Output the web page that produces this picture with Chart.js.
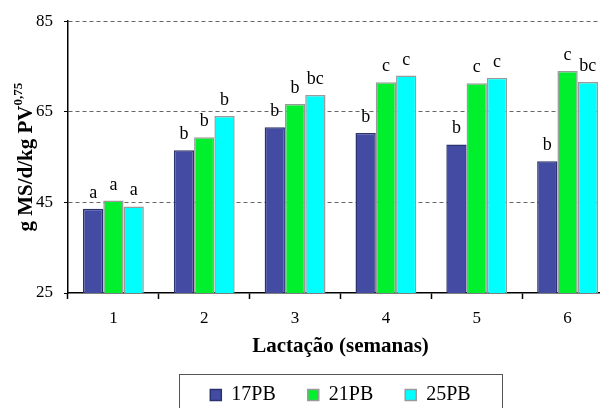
<!DOCTYPE html>
<html>
<head>
<meta charset="utf-8">
<script src="https://cdn.jsdelivr.net/npm/chart.js@4.4.1/dist/chart.umd.min.js"></script>
<style>
  html, body { margin: 0; padding: 0; background: #fff; overflow: hidden; }
  #wrap { position: absolute; left: 0; top: 0; }
</style>
</head>
<body>
<div id="wrap"><canvas id="consumoChart" width="614" height="415"></canvas></div>
<script>
// semanas de lactação
const semanas = ['1', '2', '3', '4', '5', '6'];

// consumo (g MS/d/kg PV^0,75) por nível de proteína
const pb17 = [43.6, 56.5, 61.6, 60.3, 57.8, 54.1];
const pb21 = [45.4, 59.4, 66.7, 71.5, 71.3, 74.0];
const pb25 = [44.1, 64.1, 68.7, 73.0, 72.5, 71.6];

// letras de significância
const letras17 = ['a', 'b', 'b', 'b', 'b', 'b'];
const letras21 = ['a', 'b', 'b', 'c', 'c', 'c'];
const letras25 = ['a', 'b', 'bc', 'c', 'c', 'bc'];

const serif = '"Liberation Serif", "Times New Roman", serif';
Chart.defaults.font.family = serif;

// letters above each bar
const letrasPlugin = {
    id: 'letras',
    afterDatasetsDraw(chart) {
        const ctx = chart.ctx;
        const todas = [letras17, letras21, letras25];
        ctx.save();
        ctx.font = '18px ' + serif;
        ctx.fillStyle = '#000';
        ctx.textAlign = 'center';
        ctx.textBaseline = 'alphabetic';
        chart.data.datasets.forEach((ds, i) => {
            chart.getDatasetMeta(i).data.forEach((bar, j) => {
                ctx.fillText(todas[i][j], bar.x, bar.y - 11);
            });
        });
        ctx.restore();
    }
};

// y title with superscript + legend frame
const extrasPlugin = {
    id: 'extras',
    afterDraw(chart) {
        const ctx = chart.ctx;
        const area = chart.chartArea;
        const principal = 'g MS/d/kg PV';
        const sobrescrito = '0,75';

        ctx.save();
        ctx.font = 'bold 21px ' + serif;
        const w1 = ctx.measureText(principal).width;
        ctx.font = 'bold 13px ' + serif;
        const w2 = ctx.measureText(sobrescrito).width;
        const total = w1 + w2;
        ctx.translate(25, (area.top + area.bottom) / 2);
        ctx.rotate(-Math.PI / 2);
        ctx.fillStyle = '#000';
        ctx.textBaseline = 'alphabetic';
        ctx.textAlign = 'left';
        ctx.font = 'bold 21px ' + serif;
        ctx.fillText(principal, -total / 2, 7);
        ctx.font = 'bold 13px ' + serif;
        ctx.fillText(sobrescrito, -total / 2 + w1, -3);
        ctx.restore();

        const leg = chart.legend;
        const cx = (area.left + area.right) / 2;
        ctx.save();
        ctx.strokeStyle = '#555';
        ctx.lineWidth = 1;
        ctx.strokeRect(Math.round(cx - 161.5) + 0.5, Math.round(leg.top + 21) + 0.5, 323, 80);
        ctx.restore();
    }
};

const ctx = document.getElementById('consumoChart').getContext('2d');

new Chart(ctx, {
    type: 'bar',
    data: {
        labels: semanas,
        datasets: [
            {
                label: '17PB',
                data: pb17,
                backgroundColor: '#434ba2',
                borderColor: '#2a3270',
                borderWidth: 1.5
            },
            {
                label: '21PB',
                data: pb21,
                backgroundColor: '#00f02e',
                borderColor: '#9a9a9a',
                borderWidth: 1.5
            },
            {
                label: '25PB',
                data: pb25,
                backgroundColor: '#00ffff',
                borderColor: '#9a9a9a',
                borderWidth: 1.5
            }
        ]
    },
    options: {
        responsive: false,
        animation: false,
        devicePixelRatio: 1,
        layout: {
            padding: { top: 19, right: 1, bottom: 0, left: 0 }
        },
        datasets: {
            bar: {
                categoryPercentage: 0.67,
                barPercentage: 1.0
            }
        },
        plugins: {
            legend: {
                position: 'bottom',
                fullSize: false,
                labels: {
                    boxWidth: 11,
                    boxHeight: 11,
                    padding: 32,
                    color: '#000',
                    font: { family: serif, size: 20 }
                }
            },
            title: { display: false },
            tooltip: { enabled: false }
        },
        scales: {
            x: {
                afterFit(scale) { scale.height = 60; },
                grid: {
                    offset: true,
                    drawOnChartArea: false,
                    drawTicks: true,
                    tickLength: 6,
                    tickColor: '#000',
                    tickWidth: 1.5
                },
                border: { display: true, color: '#000', width: 1.5 },
                ticks: {
                    color: '#000',
                    padding: 9,
                    font: { family: serif, size: 17 }
                },
                title: {
                    display: true,
                    text: 'Lactação (semanas)',
                    color: '#000',
                    padding: { top: 0, bottom: -6 },
                    font: { family: serif, size: 21, weight: 'bold' }
                }
            },
            y: {
                min: 25,
                max: 85,
                afterFit(scale) { scale.width = 68; },
                ticks: {
                    stepSize: 20,
                    color: '#000',
                    padding: 11,
                    font: { family: serif, size: 17 }
                },
                grid: {
                    color: (c) => (c.tick && c.tick.value === 25 ? 'rgba(0,0,0,0)' : '#666'),
                    lineWidth: 1,
                    tickLength: 4,
                    tickColor: '#000',
                    tickBorderDash: [],
                    drawTicks: true
                },
                border: { display: true, color: '#000', width: 1.5, dash: [4, 3] },
                title: { display: false }
            }
        }
    },
    plugins: [letrasPlugin, extrasPlugin]
});
</script>
</body>
</html>
